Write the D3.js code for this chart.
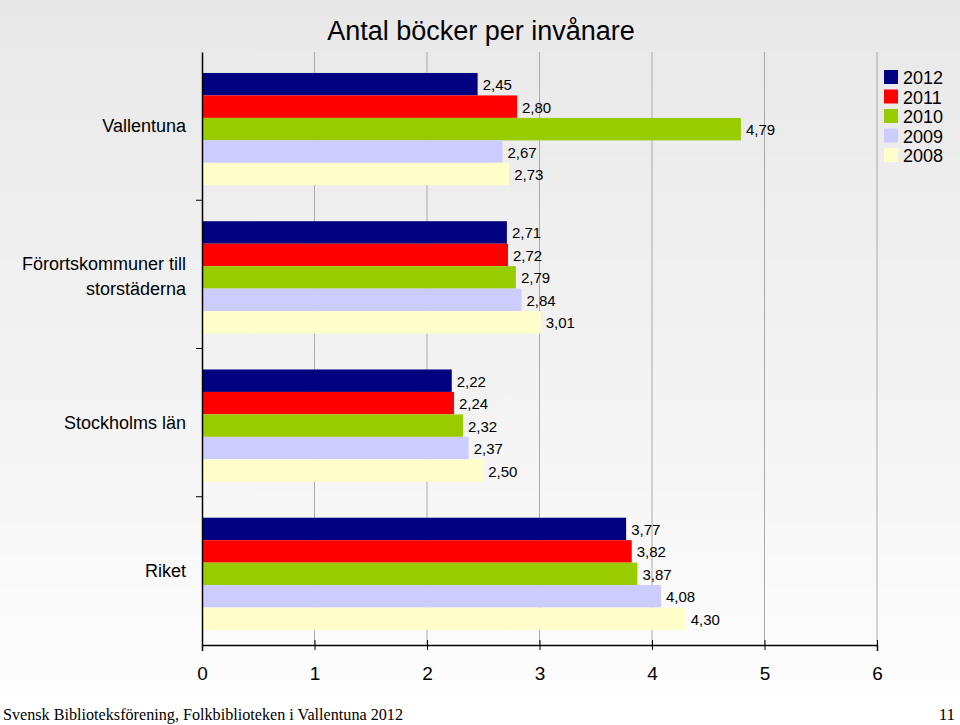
<!DOCTYPE html>
<html><head><meta charset="utf-8">
<script src="https://cdn.jsdelivr.net/npm/d3@7"></script>
<style>body{margin:0;background:#fff}</style>
</head><body>
<svg id="chart" width="960" height="725"></svg>
<script>
const categories = ['Vallentuna', 'Förortskommuner till storstäderna', 'Stockholms län', 'Riket'];
const years = ['2012', '2011', '2010', '2009', '2008'];
const colors = ['#000080', '#ff0000', '#99cc00', '#ccccff', '#ffffcc'];
const values = {
  '2012': [2.45, 2.71, 2.22, 3.77],
  '2011': [2.80, 2.72, 2.24, 3.82],
  '2010': [4.79, 2.79, 2.32, 3.87],
  '2009': [2.67, 2.84, 2.37, 4.08],
  '2008': [2.73, 3.01, 2.50, 4.30]
};
const ticks = [0, 1, 2, 3, 4, 5, 6];

const svg = d3.select('#chart');
const font = 'Liberation Sans, Arial, sans-serif';
const margin = { top: 52, left: 202, right: 877, bottom: 645 };

const defs = svg.append('defs');
const grad = defs.append('linearGradient').attr('id', 'bg').attr('x1', 0).attr('x2', 0).attr('y1', 0).attr('y2', 1);
grad.append('stop').attr('offset', '0%').attr('stop-color', '#e8e8e8');
grad.append('stop').attr('offset', '60%').attr('stop-color', '#f4f4f4');
grad.append('stop').attr('offset', '100%').attr('stop-color', '#fdfdfd');
svg.append('rect').attr('width', 960).attr('height', 695).attr('fill', 'url(#bg)');

const x = d3.scaleLinear().domain([0, 6]).range([margin.left, margin.right]);
const y = d3.scaleBand().domain(categories).range([margin.top, margin.bottom]);
const yi = d3.scaleBand().domain(years).range([3, y.bandwidth() + 3]).paddingOuter(0.8);

// gridlines
svg.append('g').selectAll('line').data(ticks.slice(1)).join('line')
  .attr('x1', d => x(d)).attr('x2', d => x(d))
  .attr('y1', margin.top).attr('y2', margin.bottom)
  .attr('stroke', '#aaa').attr('stroke-width', 1);

const groups = svg.append('g').selectAll('g').data(categories).join('g')
  .attr('transform', d => `translate(0,${y(d)})`);
years.forEach((yr, k) => {
  groups.append('rect')
    .attr('x', x(0)).attr('y', yi(yr))
    .attr('width', (d, i) => x(values[yr][i]) - x(0))
    .attr('height', yi.bandwidth())
    .attr('fill', colors[k]);
  groups.append('text')
    .attr('x', (d, i) => x(values[yr][i]) + 5)
    .attr('y', yi(yr) + yi.bandwidth() / 2 + 6)
    .attr('font-family', font).attr('font-size', 15).attr('fill', '#000')
    .text((d, i) => values[yr][i].toFixed(2).replace('.', ','));
});

// axes
const xAxis = svg.append('g').attr('transform', `translate(0,${margin.bottom})`)
  .call(d3.axisBottom(x).tickValues(ticks).tickSize(6).tickPadding(16).tickFormat(d => d));
xAxis.select('.domain').attr('stroke', '#000').attr('stroke-width', 1.5);
xAxis.selectAll('.tick line').attr('y1', -5).attr('y2', 5);
xAxis.selectAll('text').attr('font-family', font).attr('font-size', 19);

const yAxis = svg.append('g').attr('transform', `translate(${margin.left},0)`)
  .call(d3.axisLeft(y).tickValues([]).tickSizeOuter(0));
yAxis.select('.domain').attr('stroke', '#000').attr('stroke-width', 1.5);
svg.append('g').selectAll('line').data(categories.slice(1)).join('line')
  .attr('x1', margin.left - 6).attr('x2', margin.left)
  .attr('y1', d => y(d)).attr('y2', d => y(d)).attr('stroke', '#000');

// category labels
svg.append('g').selectAll('text').data(categories).join('text')
  .attr('text-anchor', 'end').attr('x', 186)
  .attr('font-family', font).attr('font-size', 18)
  .each(function (d) {
    const t = d3.select(this);
    const cy = y(d) + y.bandwidth() / 2;
    if (d.startsWith('Förort')) {
      t.append('tspan').attr('x', 186).attr('y', cy - 4).text('Förortskommuner till');
      t.append('tspan').attr('x', 186).attr('y', cy + 21).text('storstäderna');
    } else {
      t.attr('y', cy + 6).text(d);
    }
  });

// title
svg.append('text').attr('x', 481).attr('y', 40).attr('text-anchor', 'middle')
  .attr('font-family', font).attr('font-size', 27).text('Antal böcker per invånare');

// legend
const leg = svg.append('g').attr('transform', 'translate(884,70)');
years.forEach((yr, k) => {
  leg.append('rect').attr('x', 0).attr('y', k * 19.5).attr('width', 14).attr('height', 14).attr('fill', colors[k]);
  leg.append('text').attr('x', 19).attr('y', k * 19.5 + 14).attr('font-family', font).attr('font-size', 18).text(yr);
});

// footer
svg.append('text').attr('x', 3).attr('y', 720).attr('font-family', 'Liberation Serif, serif').attr('font-size', 17)
  .attr('textLength', 400).attr('lengthAdjust', 'spacingAndGlyphs')
  .text('Svensk Biblioteksförening, Folkbiblioteken i Vallentuna 2012');
svg.append('text').attr('x', 955).attr('y', 720).attr('text-anchor', 'end').attr('font-family', 'Liberation Serif, serif').attr('font-size', 17).text('11');
</script>
</body></html>
